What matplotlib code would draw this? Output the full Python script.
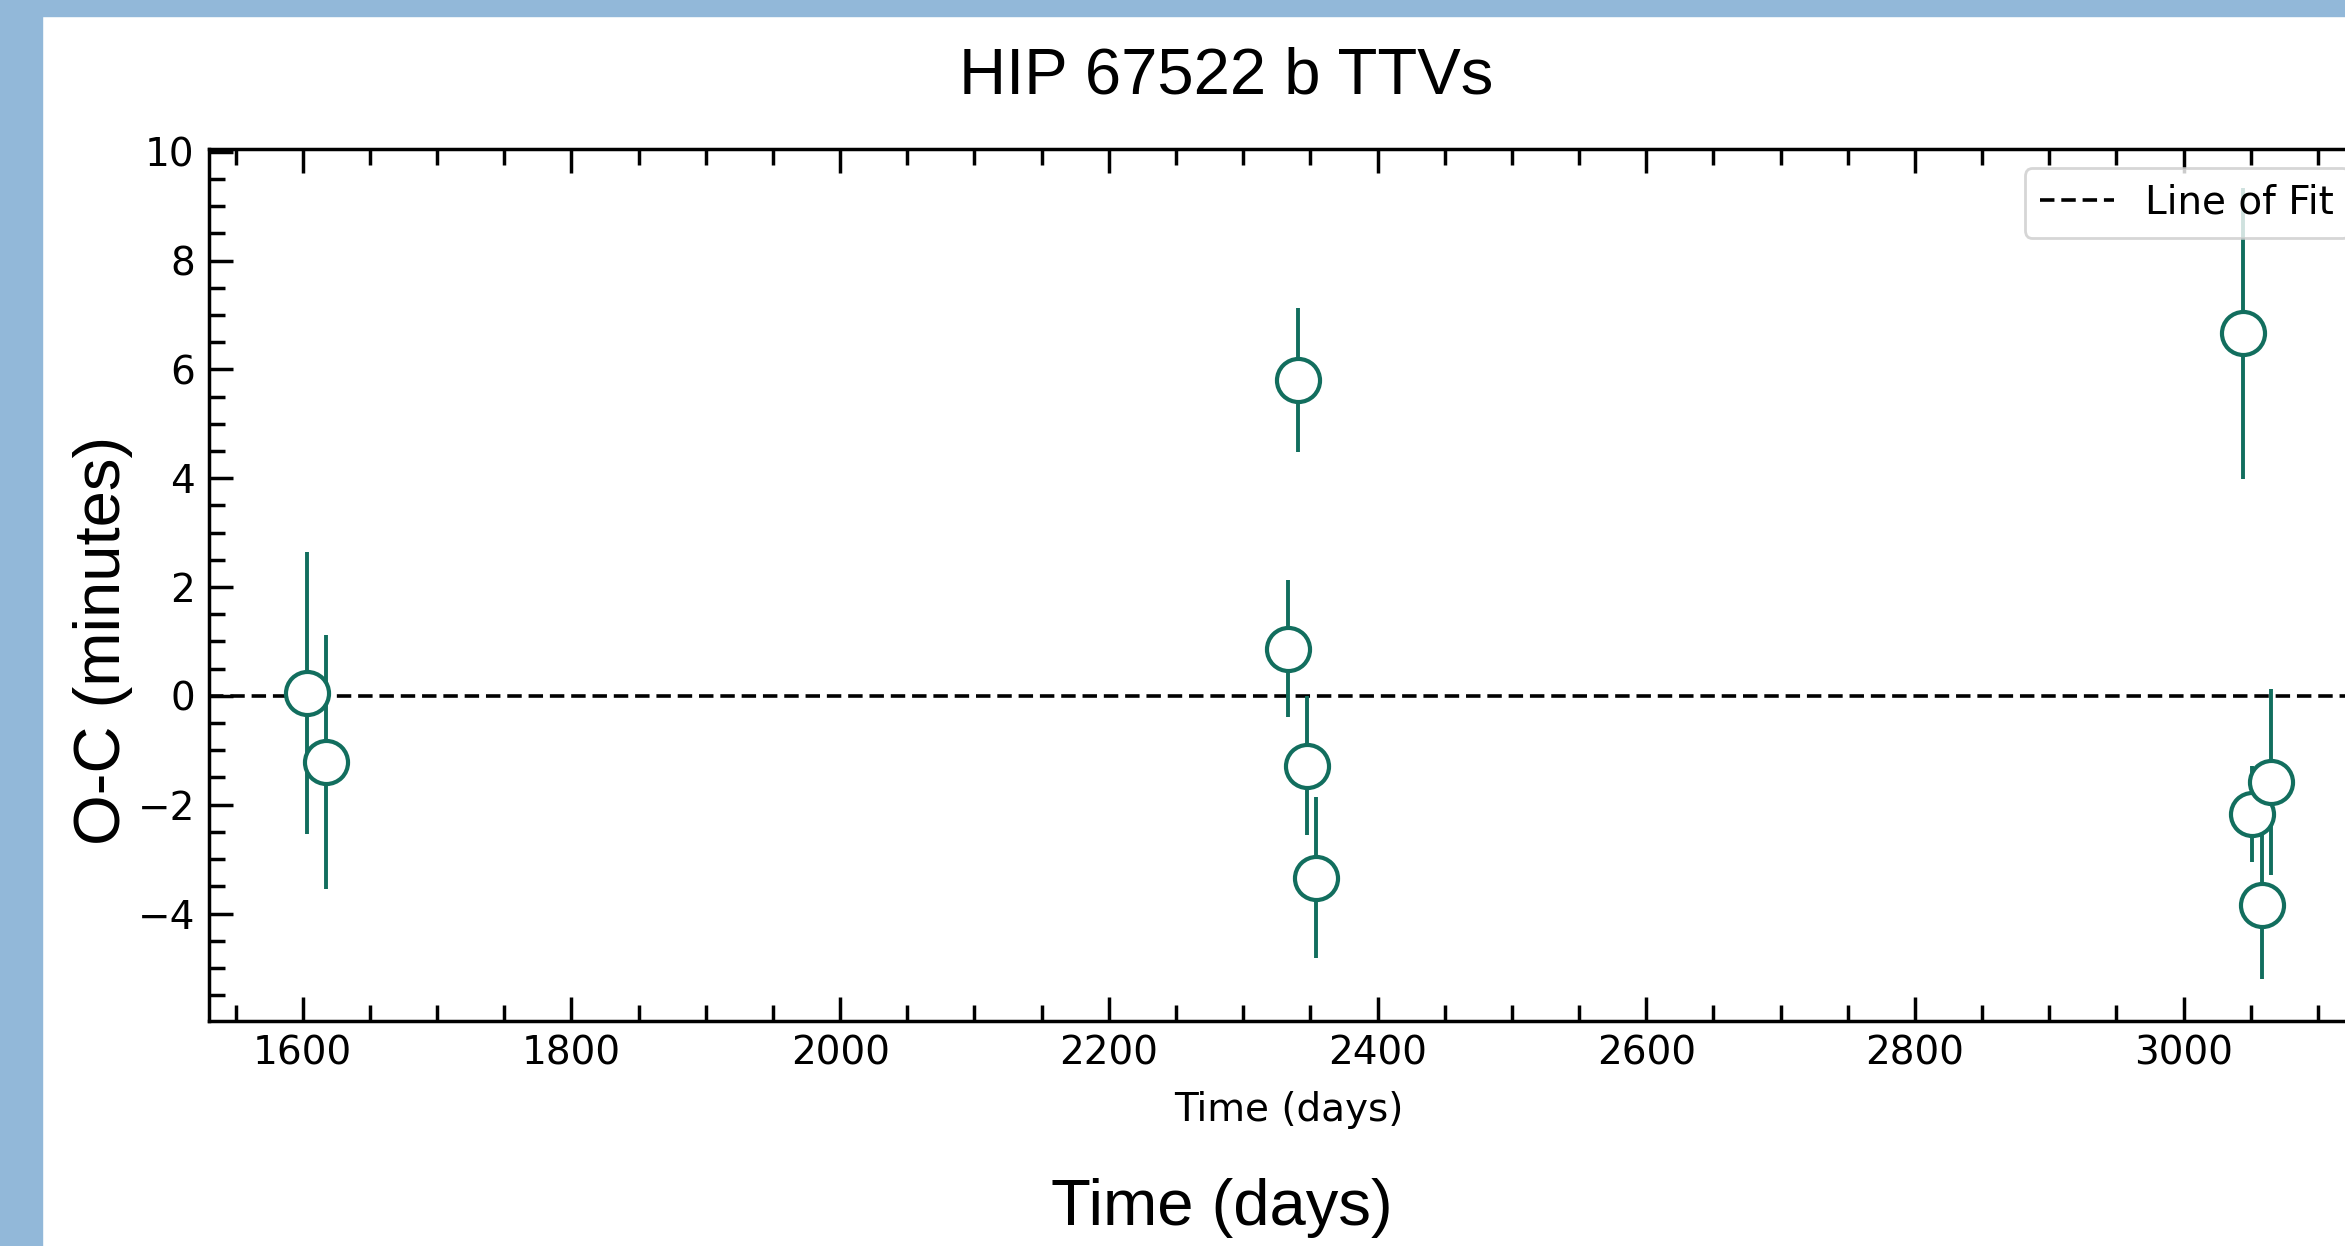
import matplotlib
matplotlib.use("Agg")
import matplotlib.pyplot as plt
from matplotlib.patches import Rectangle
from matplotlib.ticker import MultipleLocator

# transit mid-times (days) and O-C residuals (minutes)
time_days = [1603.5, 1617.6, 2333.6, 2340.5, 2347.5, 2354.5, 3044.0, 3051.0, 3058.0, 3065.0]
oc_minutes = [0.05, -1.22, 0.87, 5.80, -1.28, -3.34, 6.66, -2.17, -3.85, -1.58]
oc_err = [2.59, 2.33, 1.25, 1.32, 1.28, 1.48, 2.67, 0.89, 1.35, 1.71]
fit_level = 0.0

teal = '#126e5e'
slide_blue = '#92b8d9'
W, H = 2345, 1246

fig = plt.figure(figsize=(W / 100, H / 100), dpi=100)
fig.patch.set_facecolor('white')

# slide border strips
fig.patches.append(Rectangle((0, 0), 42 / W, 1, transform=fig.transFigure,
                             color=slide_blue, zorder=0))
fig.patches.append(Rectangle((0, 1 - 15.5 / H), 1, 15.5 / H, transform=fig.transFigure,
                             color=slide_blue, zorder=0))

# axes run past the right edge, like the cropped screenshot
ax = fig.add_axes([208.7 / W, 225.3 / H, (2369 - 208.7) / W, (1097 - 225.3) / H])

ax.axhline(fit_level, color='black', ls=(0, (4, 1.9)), lw=2.6, label='Line of Fit', zorder=2)
ax.errorbar(time_days, oc_minutes, yerr=oc_err, fmt='o', color=teal, ecolor=teal,
            mfc='white', mec=teal, ms=31, mew=3, elinewidth=2.8, capsize=0, zorder=3)

ax.set_xlim(1530, 3138)
ax.set_ylim(-5.97, 10.05)
ax.xaxis.set_major_locator(MultipleLocator(200))
ax.xaxis.set_minor_locator(MultipleLocator(50))
ax.yaxis.set_major_locator(MultipleLocator(2))
ax.yaxis.set_minor_locator(MultipleLocator(0.5))
ax.tick_params(which='both', direction='in', top=True, right=True, width=2.5,
               labelsize=28, pad=10)
ax.tick_params(which='major', length=17)
ax.tick_params(which='minor', length=11.5)
for sp in ax.spines.values():
    sp.set_linewidth(2.5)

ax.set_xlabel('Time (days)', fontsize=28)
ax.xaxis.label.set_va('baseline')
ax.xaxis.set_label_coords(0.5, (125 - 225.3) / (1097 - 225.3))

leg = ax.legend(loc='upper right', fontsize=28, framealpha=0.8, edgecolor='#cccccc',
                fancybox=True, handlelength=1.9)
leg.get_frame().set_linewidth(2)
leg.set_zorder(5)

# slide text boxes
slide_font = ['Liberation Sans', 'DejaVu Sans']
fig.text(1226 / W, 1 - 94 / H, 'HIP 67522 b TTVs', fontsize=47, family=slide_font,
         ha='center', va='baseline')
fig.text(1222 / W, 1 - 1225 / H, 'Time (days)', fontsize=47, family=slide_font,
         ha='center', va='baseline')
fig.text(103 / W, 1 - 640 / H, 'O-C (minutes)', fontsize=47, family=slide_font,
         rotation=90, ha='center', va='center')

fig.savefig('out.png', dpi=100)
